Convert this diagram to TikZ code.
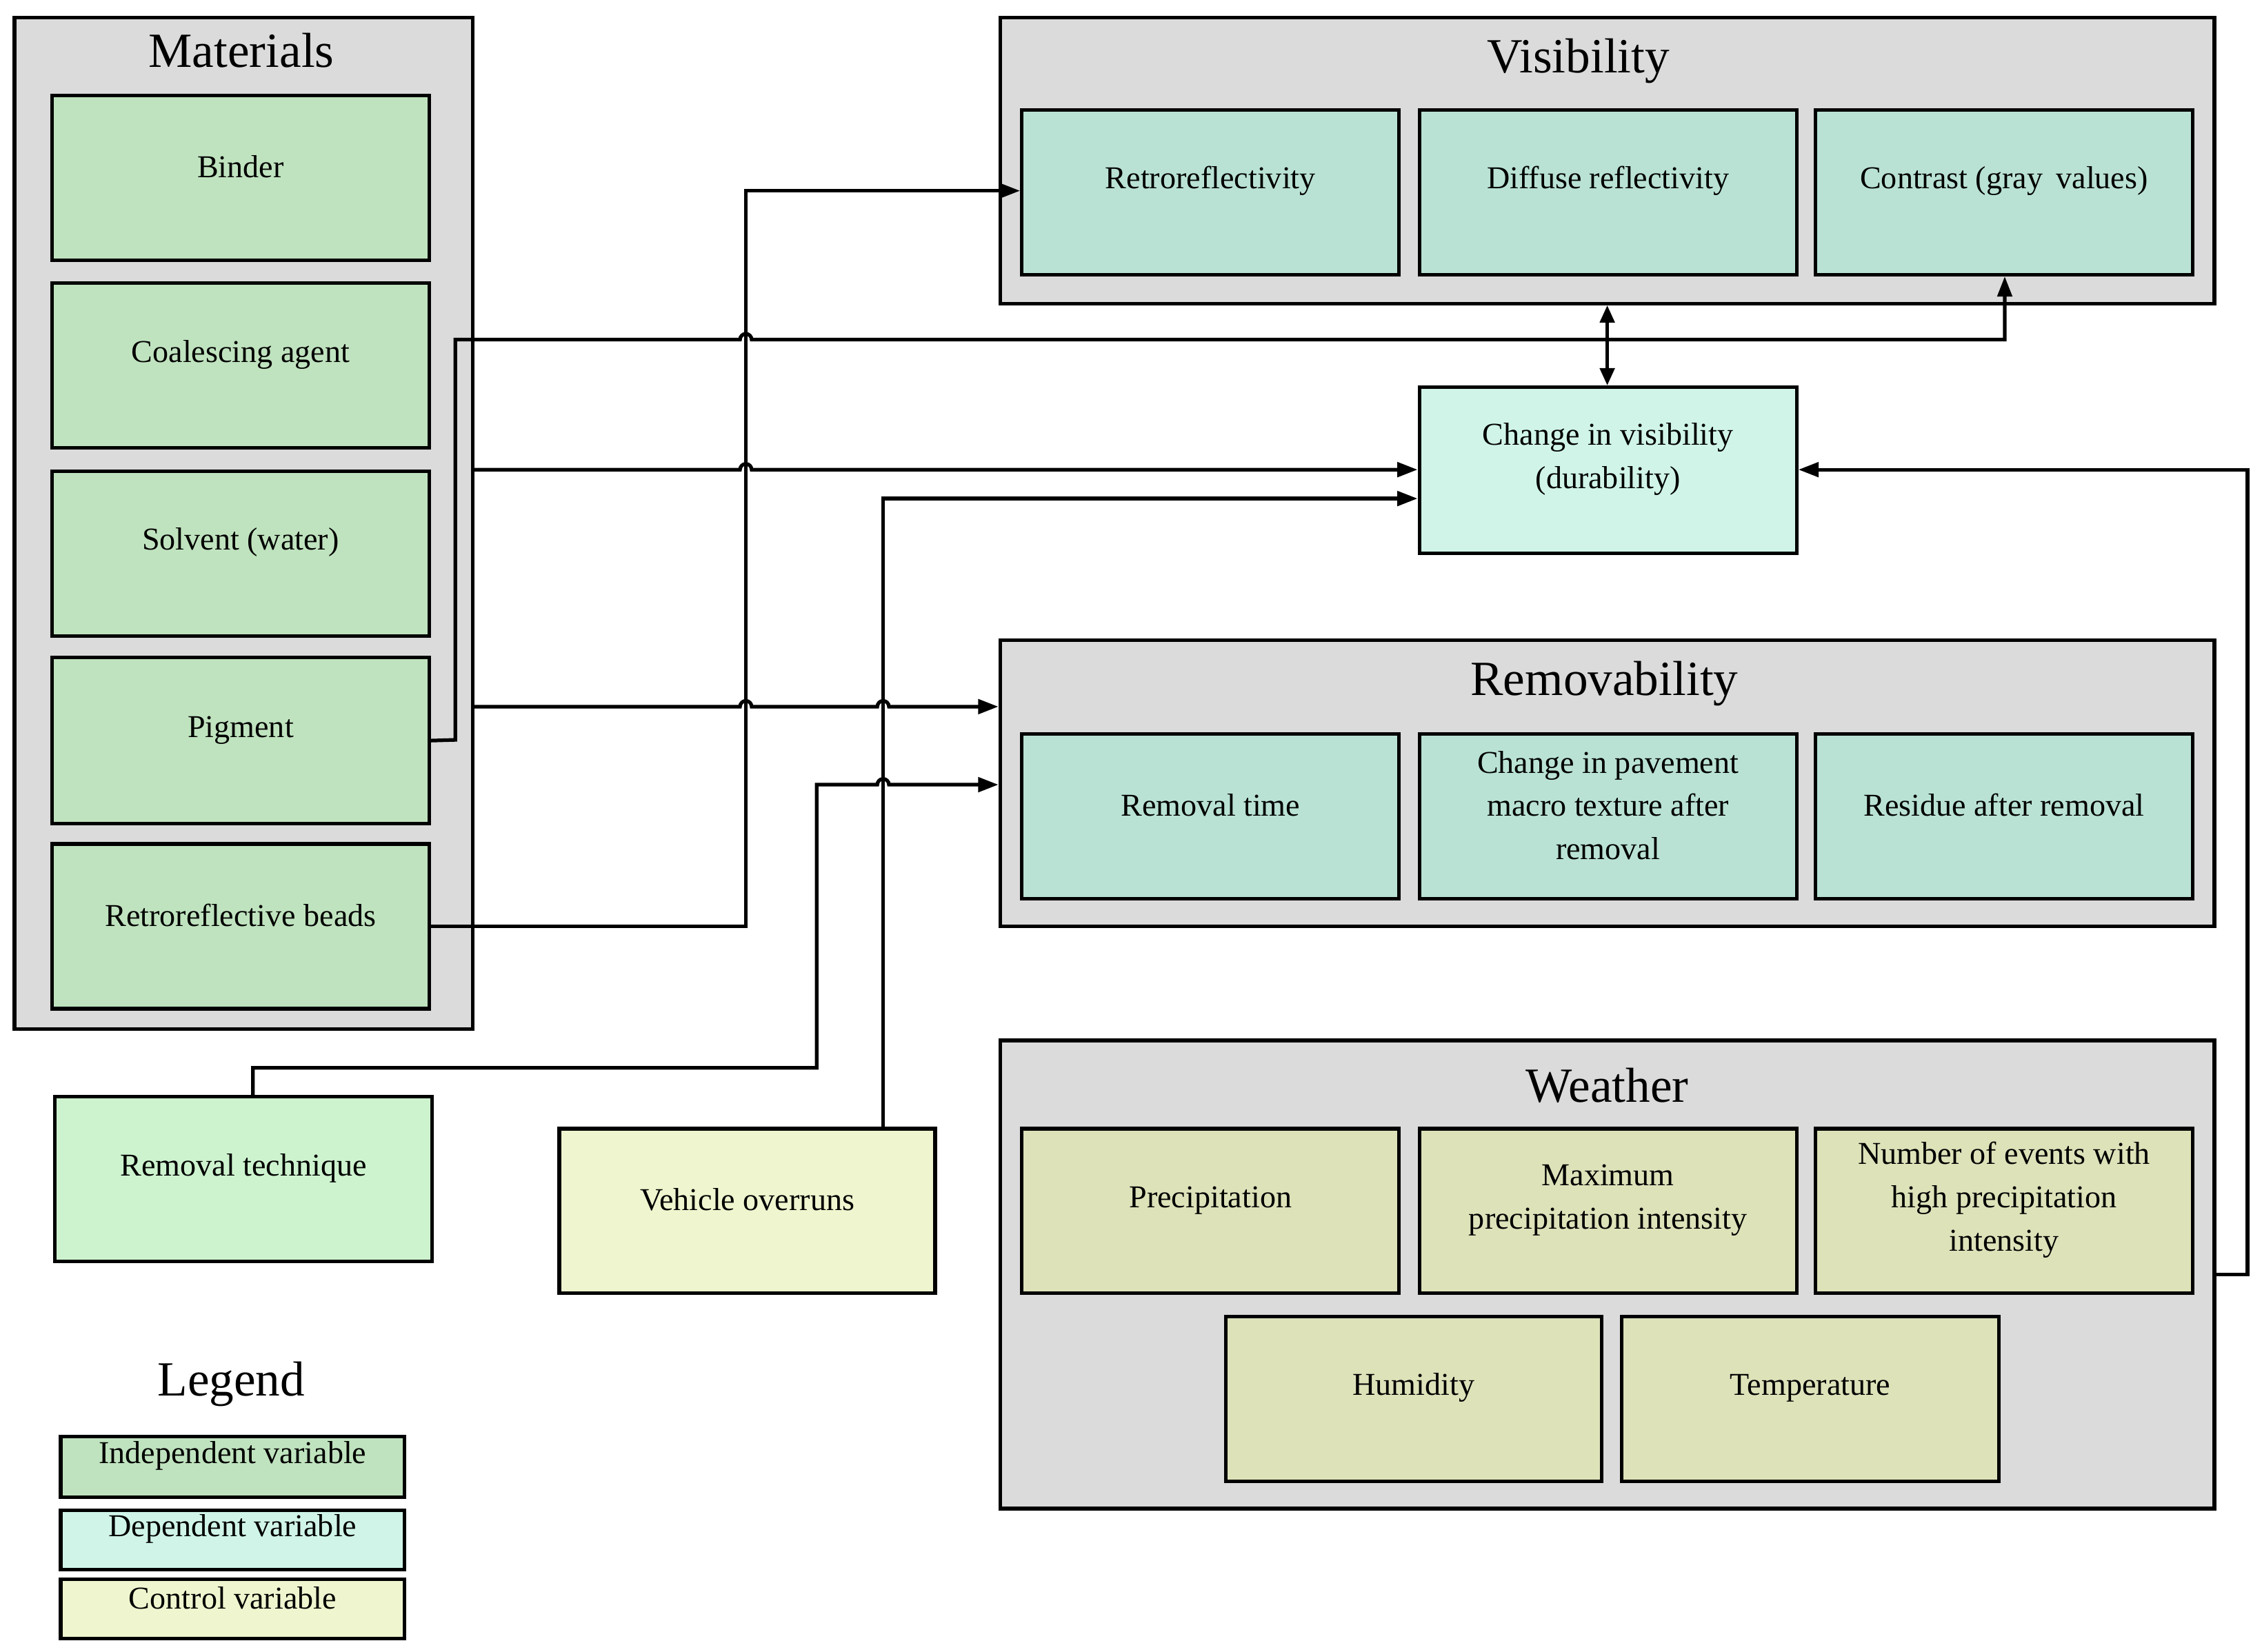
\documentclass[tikz,border=0pt]{standalone}
\usepackage{fontspec}
\setmainfont{Liberation Serif}
\usetikzlibrary{fit,arrows.meta}
\definecolor{grp}{HTML}{DBDBDB}
\definecolor{indep}{HTML}{BFE3BE}
\definecolor{dep}{HTML}{B9E2D5}
\definecolor{depl}{HTML}{D0F5E8}
\definecolor{ctrl}{HTML}{DDE2B9}
\definecolor{rem}{HTML}{CDF3CE}
\definecolor{veh}{HTML}{EFF5CE}
\begin{document}
\begin{tikzpicture}[x=1pt,y=-1pt,
 grpbox/.style={draw=black,line width=2.5pt,fill=grp,inner sep=0pt},
 box/.style={draw=black,line width=2.5pt,inner sep=0pt,align=center,font=\fontsize{22}{30}\selectfont},
 ttl/.style={font=\fontsize{34}{40}\selectfont},
 conn/.style={line width=2.5pt,-{Triangle[length=14pt,width=10pt]}},
 conn2/.style={line width=2.5pt,{Triangle[length=12pt,width=10pt]}-{Triangle[length=12pt,width=10pt]}}]
\useasboundingbox (0,0) rectangle (1565,1143);
\fill[white] (0,0) rectangle (1565,1143);
% group boxes
\node[grpbox,fit={(10,12)(327,712)}] (mat) {};
\node[ttl] at (167,35) {Materials};
\node[grpbox,fit={(692,12)(1532,210)}] (vis) {};
\node[ttl] at (1092,42) {Visibility};
\node[grpbox,fit={(692,443)(1532,641)}] (remv) {};
\node[ttl] at (1110,473) {Removability};
\node[grpbox,fit={(692,720)(1532,1044)}] (wea) {};
\node[ttl] at (1112,751) {Weather};
% materials
\node[box,fill=indep,fit={(36,66)(297,180)}] (bin) {Binder};
\node[box,fill=indep,fit={(36,196)(297,310)}] (coa) {Coalescing agent};
\node[box,fill=indep,fit={(36,326)(297,440)}] (sol) {Solvent (water)};
\node[box,fill=indep,fit={(36,455)(297,570)}] (pig) {Pigment};
\node[box,fill=indep,fit={(36,584)(297,698)}] (bea) {Retroreflective beads};
% visibility
\node[box,fill=dep,fit={(707,76)(968,190)}] (ret) {Retroreflectivity};
\node[box,fill=dep,fit={(982,76)(1243,190)}] (dif) {Diffuse reflectivity};
\node[box,fill=dep,fit={(1256,76)(1517,190)}] (con) {Contrast (gray\, values)};
\node[box,fill=depl,fit={(982,268)(1243,383)}] (chg) {Change in visibility\\(durability)};
% removability
\node[box,fill=dep,fit={(707,508)(968,622)}] (rt) {Removal time};
\node[box,fill=dep,fit={(982,508)(1243,622)}] (cp) {Change in pavement\\macro texture after\\removal};
\node[box,fill=dep,fit={(1256,508)(1517,622)}] (res) {Residue after removal};
% weather
\node[box,fill=ctrl,fit={(707,781)(968,895)}] (pre) {Precipitation};
\node[box,fill=ctrl,fit={(982,781)(1243,895)}] (max) {Maximum\\precipitation intensity};
\node[box,fill=ctrl,fit={(1256,781)(1517,895)}] (num) {Number of events with\\high precipitation\\intensity};
\node[box,fill=ctrl,fit={(848,911)(1108,1025)}] (hum) {Humidity};
\node[box,fill=ctrl,fit={(1122,911)(1383,1025)}] (tem) {Temperature};
% others
\node[box,fill=rem,fit={(38,759)(299,873)}] (rtq) {Removal technique};
\node[box,fill=veh,fit={(387,781)(647,895)}] (veh) {Vehicle overruns};
% legend
\node[ttl] at (160,958) {Legend};
\node[box,fill=indep,fit={(42,994)(280,1036)}] (l1) {Independent variable};
\node[box,fill=depl,fit={(42,1045)(280,1086)}] (l2) {Dependent variable};
\node[box,fill=veh,fit={(42,1093)(280,1134)}] (l3) {Control variable};
% connectors
\coordinate (bx) at (516,0);
\coordinate (vx) at (611,0);
\def\h{4}
% beads -> retro
\draw[conn] (bea.east) -- (516,641) -- (516,132) -- (ret.west |- 0,132);
% pigment -> contrast
\draw[conn] (pig.east) -- (315,512) -- (315,235) -- (512,235) arc (180:360:4) -- (1387,235) -- (con.south -| 1387,0);
% materials -> change
\draw[conn] (mat.east |- 0,325) -- (512,325) arc (180:360:4) -- (chg.west |- 0,325);
% vehicle -> change
\draw[conn] (veh.north -| 611,0) -- (611,345) -- (chg.west |- 0,345);
% materials -> removability
\draw[conn] (mat.east |- 0,489) -- (512,489) arc (180:360:4) -- (607,489) arc (180:360:4) -- (remv.west |- 0,489);
% removal technique -> removability
\draw[conn] (rtq.north -| 175,0) -- (175,739) -- (565,739) -- (565,543) -- (607,543) arc (180:360:4) -- (remv.west |- 0,543);
% visibility <-> change
\draw[conn2] (vis.south -| 1112,0) -- (chg.north -| 1112,0);
% weather -> change
\draw[conn] (wea.east |- 0,882) -- (1555,882) -- (1555,325) -- (chg.east |- 0,325);
\end{tikzpicture}
\end{document}
